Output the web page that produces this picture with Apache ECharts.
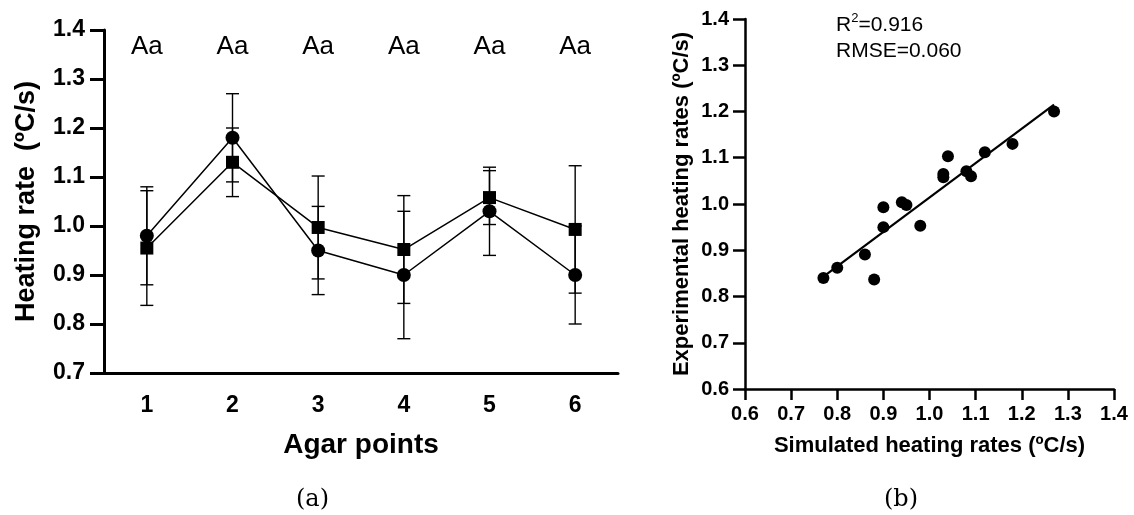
<!DOCTYPE html>
<html>
<head>
<meta charset="utf-8">
<script src="https://cdn.jsdelivr.net/npm/echarts@6/dist/echarts.min.js"></script>
<style>
  html, body { margin: 0; padding: 0; background: #fff; }
  #main { width: 1134px; height: 515px; }
</style>
</head>
<body>
<div id="main"></div>
<script>
// (a) agar points
var points = ['1', '2', '3', '4', '5', '6'];
var letters = ['Aa', 'Aa', 'Aa', 'Aa', 'Aa', 'Aa'];
var circleMean = [0.98, 1.18, 0.95, 0.90, 1.03, 0.90];
var circleSd = [0.10, 0.09, 0.09, 0.13, 0.09, 0.10];
var squareMean = [0.955, 1.13, 0.997, 0.952, 1.058, 0.993];
var squareSd = [0.117, 0.07, 0.105, 0.11, 0.055, 0.13];
var rateTicks = ['0.7', '0.8', '0.9', '1.0', '1.1', '1.2', '1.3', '1.4'];

// (b) simulated vs experimental
var simulated = [0.77, 0.80, 0.86, 0.88, 0.90, 0.90, 0.94, 0.95, 0.98, 1.03, 1.03, 1.04, 1.08, 1.09, 1.12, 1.18, 1.27];
var experimental = [0.84, 0.862, 0.891, 0.837, 0.95, 0.993, 1.004, 0.998, 0.953, 1.058, 1.065, 1.103, 1.071, 1.06, 1.112, 1.13, 1.20];
var fitLine = [[0.77, 0.843], [1.27, 1.215]];

var font = 'Liberation Sans, Arial, sans-serif';

function errorBars(mean, sd) {
  return mean.map(function (m, i) {
    return [i, m - sd[i], m + sd[i]];
  });
}

function renderBar(params, api) {
  var lo = api.coord([api.value(0), api.value(1)]);
  var hi = api.coord([api.value(0), api.value(2)]);
  var hw = 6.5;
  var st = { stroke: '#000', lineWidth: 1.4 };
  return {
    type: 'group',
    children: [
      { type: 'line', shape: { x1: lo[0], y1: lo[1], x2: hi[0], y2: hi[1] }, style: st },
      { type: 'line', shape: { x1: hi[0] - hw, y1: hi[1], x2: hi[0] + hw, y2: hi[1] }, style: st },
      { type: 'line', shape: { x1: lo[0] - hw, y1: lo[1], x2: lo[0] + hw, y2: lo[1] }, style: st }
    ]
  };
}

var chart = echarts.init(document.getElementById('main'), null, { renderer: 'canvas' });

var option = {
  backgroundColor: '#fff',
  animation: false,
  grid: [
    { left: 104, top: 30, width: 514, height: 343 },
    { left: 745, top: 19, width: 369, height: 370 }
  ],
  xAxis: [{
    type: 'category',
    gridIndex: 0,
    data: points,
    boundaryGap: true,
    name: 'Agar points',
    nameLocation: 'middle',
    nameGap: 58,
    nameTextStyle: { fontFamily: font, fontWeight: 'bold', fontSize: 28, color: '#000' },
    axisLine: { lineStyle: { color: '#000', width: 3 } },
    axisTick: { alignWithLabel: true, length: 13, lineStyle: { color: '#000', width: 3 } },
    axisLabel: { fontFamily: font, fontWeight: 'bold', fontSize: 23, color: '#000', margin: 21 },
    splitLine: { show: false }
  }, {
    type: 'category',
    gridIndex: 0,
    position: 'top',
    data: letters,
    boundaryGap: true,
    axisLine: { show: false },
    axisTick: { show: false },
    axisLabel: { inside: true, margin: 4, fontFamily: font, fontSize: 26, color: '#000' },
    splitLine: { show: false }
  }, {
    type: 'value',
    gridIndex: 1,
    min: 0.6,
    max: 1.4,
    interval: 0.1,
    name: 'Simulated heating rates (ºC/s)',
    nameLocation: 'middle',
    nameGap: 46,
    nameTextStyle: { fontFamily: font, fontWeight: 'bold', fontSize: 22, color: '#000' },
    axisLine: { lineStyle: { color: '#000', width: 2.5 } },
    axisTick: { length: 11, lineStyle: { color: '#000', width: 2.5 } },
    axisLabel: { fontFamily: font, fontWeight: 'bold', fontSize: 20, color: '#000', margin: 15,
      formatter: function (v) { return v.toFixed(1); } },
    splitLine: { show: false }
  }],
  yAxis: [{
    type: 'value',
    gridIndex: 0,
    min: 0.7,
    max: 1.4,
    interval: 0.1,
    name: 'Heating rate  (ºC/s)',
    nameLocation: 'middle',
    nameGap: 64,
    nameTextStyle: { fontFamily: font, fontWeight: 'bold', fontSize: 27, color: '#000' },
    axisLine: { show: true, lineStyle: { color: '#000', width: 3 } },
    axisTick: { show: true, length: 14, lineStyle: { color: '#000', width: 3 } },
    axisLabel: { fontFamily: font, fontWeight: 'bold', fontSize: 23, color: '#000', margin: 19,
      formatter: function (v) { return rateTicks[Math.round((v - 0.7) * 10)]; } },
    splitLine: { show: false }
  }, {
    type: 'value',
    gridIndex: 1,
    min: 0.6,
    max: 1.4,
    interval: 0.1,
    name: 'Experimental heating rates (ºC/s)',
    nameLocation: 'middle',
    nameGap: 52,
    nameTextStyle: { fontFamily: font, fontWeight: 'bold', fontSize: 22, color: '#000' },
    axisLine: { show: true, lineStyle: { color: '#000', width: 2.5 } },
    axisTick: { show: true, length: 12, lineStyle: { color: '#000', width: 2.5 } },
    axisLabel: { fontFamily: font, fontWeight: 'bold', fontSize: 20, color: '#000', margin: 16,
      formatter: function (v) { return v.toFixed(1); } },
    splitLine: { show: false }
  }],
  graphic: [
    {
      type: 'text', left: 836, top: 12,
      style: {
        text: 'R{sup|2}=0.916\nRMSE=0.060',
        font: '21px ' + font, fill: '#000', lineHeight: 26,
        rich: { sup: { fontSize: 13, verticalAlign: 'top', lineHeight: 14, fontFamily: font, fill: '#000' } }
      }
    },
    { type: 'text', left: 296, top: 488, style: { text: '(a)', font: '24px "DejaVu Serif", serif', fill: '#000' } },
    { type: 'text', left: 884, top: 488, style: { text: '(b)', font: '24px "DejaVu Serif", serif', fill: '#000' } }
  ],
  series: [
    {
      type: 'custom', xAxisIndex: 0, yAxisIndex: 0,
      renderItem: renderBar, data: errorBars(circleMean, circleSd), z: 2
    },
    {
      type: 'custom', xAxisIndex: 0, yAxisIndex: 0,
      renderItem: renderBar, data: errorBars(squareMean, squareSd), z: 2
    },
    {
      type: 'line', xAxisIndex: 0, yAxisIndex: 0, data: circleMean,
      symbol: 'circle', symbolSize: 14, showAllSymbol: true,
      lineStyle: { color: '#000', width: 1.5 }, itemStyle: { color: '#000' }, z: 3
    },
    {
      type: 'line', xAxisIndex: 0, yAxisIndex: 0, data: squareMean,
      symbol: 'rect', symbolSize: 13, showAllSymbol: true,
      lineStyle: { color: '#000', width: 1.5 }, itemStyle: { color: '#000' }, z: 4
    },
    {
      type: 'scatter', xAxisIndex: 2, yAxisIndex: 1,
      data: simulated.map(function (x, i) { return [x, experimental[i]]; }),
      symbol: 'circle', symbolSize: 12, itemStyle: { color: '#000', opacity: 1 }, z: 3
    },
    {
      type: 'line', xAxisIndex: 2, yAxisIndex: 1, data: fitLine,
      symbol: 'none', lineStyle: { color: '#000', width: 2.2 }, z: 2
    }
  ]
};

chart.setOption(option);
</script>
</body>
</html>
